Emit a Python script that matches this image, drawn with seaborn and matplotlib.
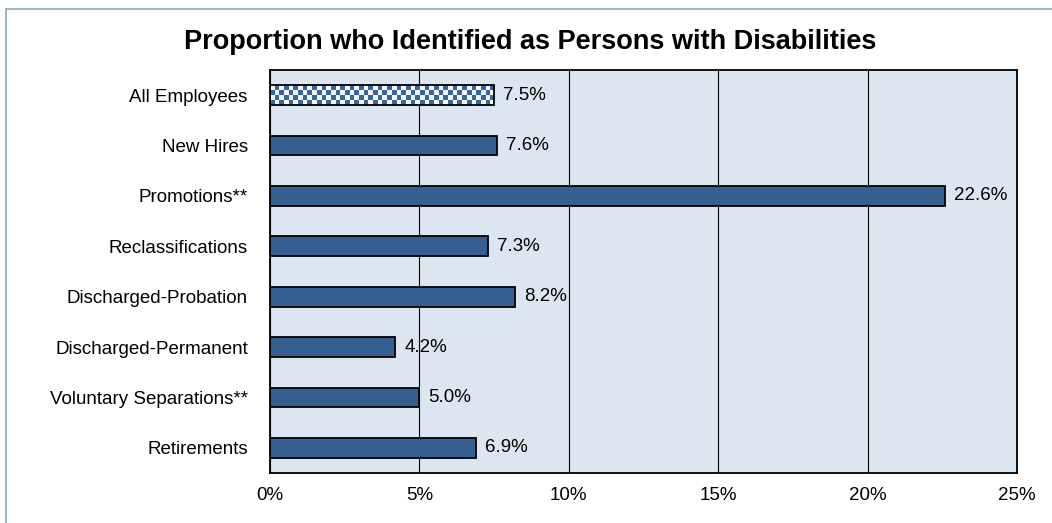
import matplotlib.pyplot as plt
import matplotlib.patches as mpatches
import numpy as np
import pandas as pd
import seaborn as sns
from matplotlib.colors import ListedColormap

# Data
categories = ['All Employees', 'New Hires', 'Promotions**', 'Reclassifications',
              'Discharged-Probation', 'Discharged-Permanent',
              'Voluntary Separations**', 'Retirements']
values = [7.5, 7.6, 22.6, 7.3, 8.2, 4.2, 5.0, 6.9]
x_ticks = [0, 5, 10, 15, 20, 25]

df = pd.DataFrame({'category': categories, 'value': values})

sns.set_style('white')
plt.rcParams['font.family'] = ['Liberation Sans', 'DejaVu Sans']
plt.rcParams['text.color'] = 'black'
plt.rcParams['xtick.color'] = 'black'
plt.rcParams['ytick.color'] = 'black'

fig = plt.figure(figsize=(10.52, 5.23), dpi=100)
ax = fig.add_axes([270 / 1052, 1 - 473 / 523, (1017 - 270) / 1052, (473 - 70) / 523])

bar_color = '#365F91'
sns.barplot(data=df, x='value', y='category', orient='h', color=bar_color,
            width=0.39, edgecolor='black', linewidth=1.3, saturation=1, ax=ax)

ax.set_facecolor('#DCE6F0')
ax.set_xticks(x_ticks)
ax.set_xticklabels([f'{t}%' for t in x_ticks], fontsize=13.5)
ax.grid(axis='x', color='black', linewidth=0.8)
ax.set_axisbelow(True)
ax.set_xlabel('')
ax.set_ylabel('')

# y labels at centers, tick marks at category boundaries
ax.set_yticks(range(len(categories)))
ax.set_yticklabels(categories, fontsize=13.5)
ax.tick_params(axis='y', which='major', length=0, pad=16)
ax.set_yticks(np.arange(-0.5, len(categories), 1), minor=True)
ax.tick_params(axis='y', which='minor', length=5, width=1, color='black', direction='out')
ax.tick_params(axis='x', which='major', length=5, width=1, color='black', direction='out', pad=5)
for s in ax.spines.values():
    s.set_color('black')
    s.set_linewidth(1.3)

# checkered fill for the first bar (All Employees)
first = ax.patches[0]
bx, by = first.get_x(), first.get_y()
bw, bh = first.get_width(), first.get_height()
ncol, nrow = 48, 4
check = (np.indices((nrow, ncol)).sum(axis=0) % 2).astype(float)
cmap = ListedColormap(['#F4F7FB', '#3A679F'])
first.set_facecolor('none')
img = ax.imshow(check, cmap=cmap, extent=(bx, bx + bw, by + bh, by), aspect='auto',
                interpolation='nearest', zorder=first.get_zorder() - 0.1)
img.set_clip_path(first)
ax.set_xlim(0, 25)
ax.set_ylim(len(categories) - 0.5, -0.5)

# value labels
for i, v in enumerate(values):
    ax.text(v + 0.3, i, f'{v:.1f}%', va='center', ha='left', fontsize=13.5)

fig.suptitle('Proportion who Identified as Persons with Disabilities',
             fontsize=19.5, fontweight='bold', x=530 / 1052, y=1 - 42 / 523, va='center')

# outer chart border
fig.patches.append(mpatches.Rectangle((6 / 1052, -0.1), 1.2, 1 - 9 / 523 + 0.1,
                                      transform=fig.transFigure, fill=False,
                                      edgecolor='#8EA6C6', linewidth=1.2))

plt.savefig('out.png', dpi=100)
